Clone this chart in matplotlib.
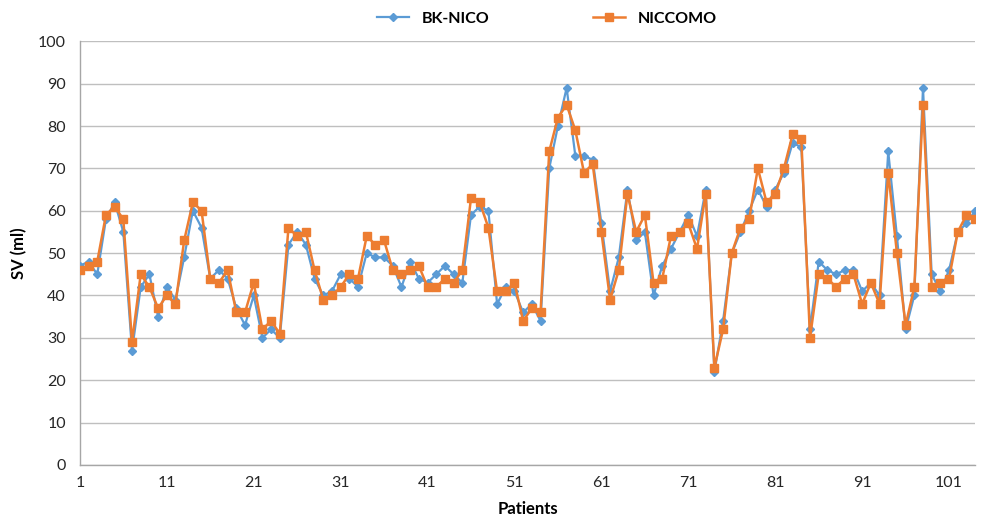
import numpy as np
import matplotlib
matplotlib.use("Agg")
import matplotlib.pyplot as plt

plt.rcParams["font.family"] = ["Lato", "DejaVu Sans"]

# ── Data ──────────────────────────────────────────────────────────────────────
patients = np.arange(1, 105)

bk_nico = [
    47, 48, 45, 58, 62, 55, 27, 42, 45, 35,
    42, 39, 49, 60, 56, 44, 46, 44, 37, 33,
    40, 30, 32, 30, 52, 55, 52, 44, 40, 41,
    45, 44, 42, 50, 49, 49, 47, 42, 48, 44,
    43, 45, 47, 45, 43, 59, 61, 60, 38, 42,
    41, 36, 38, 34, 70, 80, 89, 73, 73, 72,
    57, 41, 49, 65, 53, 55, 40, 47, 51, 55,
    59, 54, 65, 22, 34, 50, 55, 60, 65, 61,
    65, 69, 76, 75, 32, 48, 46, 45, 46, 46,
    41, 43, 40, 74, 54, 32, 40, 89, 45, 41,
    46, 55, 57, 60,
]

niccomo = [
    46, 47, 48, 59, 61, 58, 29, 45, 42, 37,
    40, 38, 53, 62, 60, 44, 43, 46, 36, 36,
    43, 32, 34, 31, 56, 54, 55, 46, 39, 40,
    42, 45, 44, 54, 52, 53, 46, 45, 46, 47,
    42, 42, 44, 43, 46, 63, 62, 56, 41, 41,
    43, 34, 37, 36, 74, 82, 85, 79, 69, 71,
    55, 39, 46, 64, 55, 59, 43, 44, 54, 55,
    57, 51, 64, 23, 32, 50, 56, 58, 70, 62,
    64, 70, 78, 77, 30, 45, 44, 42, 44, 45,
    38, 43, 38, 69, 50, 33, 42, 85, 42, 43,
    44, 55, 59, 58,
]

x_ticks = [1, 11, 21, 31, 41, 51, 61, 71, 81, 91, 101]

BLUE   = "#5B9BD5"
ORANGE = "#ED7D31"

# ── Plot ──────────────────────────────────────────────────────────────────────
fig = plt.figure(figsize=(9.86, 5.29), dpi=100)
ax = fig.add_axes([0.081, 0.121, 0.908, 0.801])

ax.plot(patients, bk_nico, color=BLUE, linewidth=1.6, marker="D",
        markersize=4.2, label="BK-NICO", zorder=3)
ax.plot(patients, niccomo, color=ORANGE, linewidth=1.8, marker="s",
        markersize=6.2, label="NICCOMO", zorder=4)

ax.set_xlim(1, 104)
ax.set_ylim(0, 100)
ax.set_yticks(range(0, 101, 10))
ax.set_xticks(x_ticks)
ax.grid(axis="y", color="#BFBFBF", linewidth=1.0)
ax.set_axisbelow(True)

for side in ["top", "right"]:
    ax.spines[side].set_visible(False)
for side in ["left", "bottom"]:
    ax.spines[side].set_color("#A6A6A6")
    ax.spines[side].set_linewidth(1.0)

ax.tick_params(axis="both", length=0, labelsize=11.5, colors="#262626", pad=8)
ax.tick_params(axis="y", pad=10)

ax.set_xlabel("Patients", fontsize=12, fontweight="bold", labelpad=8)
ax.set_ylabel("SV (ml)", fontsize=12, fontweight="bold", labelpad=8)

fig.legend(loc="upper center", bbox_to_anchor=(0.555, 1.005), ncol=2,
           frameon=False, fontsize=11.5, columnspacing=6.5, handlelength=2.0,
           prop={"weight": "bold", "size": 11.5})

fig.savefig("out.png", dpi=100)
plt.close()
